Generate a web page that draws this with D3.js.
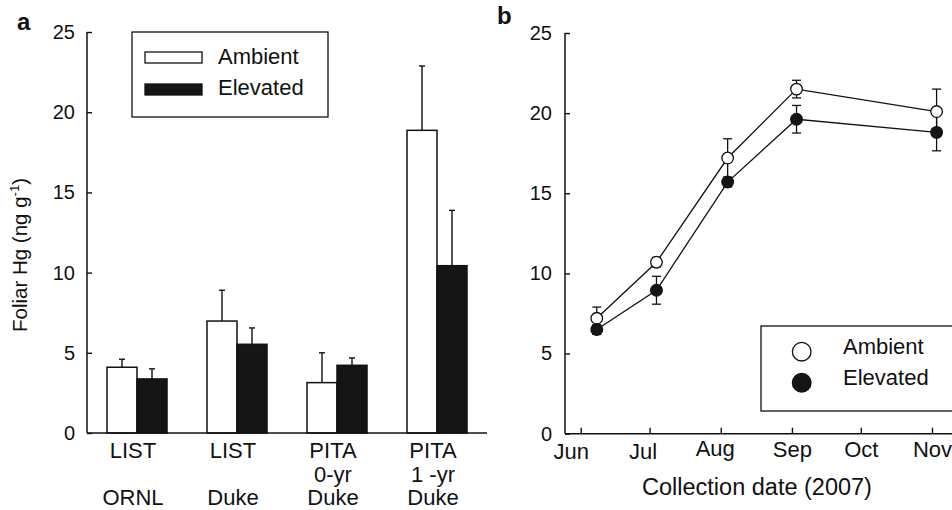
<!DOCTYPE html>
<html>
<head>
<meta charset="utf-8">
<script src="https://cdn.jsdelivr.net/npm/d3@7"></script>
<style>
  body { margin: 0; background: #fff; }
  svg { font-family: Arial, "Liberation Sans", Helvetica, sans-serif; }
</style>
</head>
<body>
<svg id="chart" width="952" height="510"></svg>
<script>
// panel a data
const sites = ['ORNL LIST', 'Duke LIST', 'PITA 0-yr', 'PITA 1-yr'];
const siteLabels = [['LIST', '', 'ORNL'], ['LIST', '', 'Duke'], ['PITA', '0-yr', 'Duke'], ['PITA', '1 -yr', 'Duke']];
const ambientBars = [4.1, 6.98, 3.14, 18.87];
const ambientBarErr = [0.5, 1.92, 1.86, 4.01];
const elevatedBars = [3.37, 5.53, 4.22, 10.43];
const elevatedBarErr = [0.63, 1.02, 0.46, 3.45];

// panel b data
const dates = ['2007-06-08', '2007-07-04', '2007-08-04', '2007-09-03', '2007-11-03'];
const ambientHg = [7.2, 10.7, 17.2, 21.5, 20.1];
const ambientHgErr = [0.7, 0.3, 1.2, 0.55, 1.4];
const elevatedHg = [6.5, 8.95, 15.7, 19.62, 18.8];
const elevatedHgErr = [0.3, 0.87, 0.3, 0.86, 1.15];
const yTicks = [0, 5, 10, 15, 20, 25];
const monthTicks = ['2007-06-01', '2007-07-01', '2007-08-01', '2007-09-01', '2007-10-01', '2007-11-01'];

const svg = d3.select('#chart');
const parse = d3.timeParse('%Y-%m-%d');
const fontSize = 22;     // labels
const tickFont = 20;     // y tick numbers

// ---------- panel a ----------
const ya = d3.scaleLinear().domain([0, 25]).range([433, 32]);
const xa = d3.scaleBand().domain(sites).range([87, 487]);
const xInner = d3.scaleBand().domain(['Ambient', 'Elevated']).range([20, 80]);

const pa = svg.append('g');

const bars = [];
sites.forEach((s, i) => {
  bars.push({ site: s, key: 'Ambient', v: ambientBars[i], e: ambientBarErr[i] });
  bars.push({ site: s, key: 'Elevated', v: elevatedBars[i], e: elevatedBarErr[i] });
});

// error bars (upper only)
bars.forEach(d => {
  const cx = xa(d.site) + xInner(d.key) + xInner.bandwidth() / 2;
  pa.append('line')
    .attr('x1', cx).attr('x2', cx)
    .attr('y1', ya(d.v)).attr('y2', ya(d.v + d.e))
    .attr('stroke', '#111').attr('stroke-width', 1.4);
  pa.append('line')
    .attr('x1', cx - 3).attr('x2', cx + 3)
    .attr('y1', ya(d.v + d.e)).attr('y2', ya(d.v + d.e))
    .attr('stroke', '#111').attr('stroke-width', 1.4);
});

pa.selectAll('.bar')
  .data(bars)
  .enter().append('rect')
  .attr('class', 'bar')
  .attr('x', d => xa(d.site) + xInner(d.key))
  .attr('width', xInner.bandwidth())
  .attr('y', d => ya(d.v))
  .attr('height', d => ya(0) - ya(d.v))
  .attr('fill', d => d.key === 'Ambient' ? '#fff' : '#151515')
  .attr('stroke', '#111')
  .attr('stroke-width', 1.5);

// y axis, ticks inward
const ayA = pa.append('g')
  .attr('transform', 'translate(87,0)')
  .call(d3.axisRight(ya).tickValues(yTicks).tickSize(5).tickPadding(0));
ayA.select('.domain').remove();
ayA.selectAll('.tick line').attr('stroke', '#111').attr('stroke-width', 1.4);
ayA.selectAll('.tick text')
  .attr('x', -12).attr('text-anchor', 'end')
  .style('font-size', tickFont + 'px').attr('fill', '#111');
pa.append('line').attr('x1', 87).attr('x2', 87).attr('y1', ya(25)).attr('y2', ya(0))
  .attr('stroke', '#111').attr('stroke-width', 1.5);
pa.append('line').attr('x1', 87).attr('x2', 487).attr('y1', ya(0)).attr('y2', ya(0))
  .attr('stroke', '#111').attr('stroke-width', 1.6);

// category labels
sites.forEach((s, i) => {
  const cx = xa(s) + xa.bandwidth() / 2 - 4;
  siteLabels[i].forEach((t, j) => {
    if (!t) return;
    pa.append('text')
      .attr('x', cx).attr('y', 458 + j * 23.5)
      .attr('text-anchor', 'middle')
      .style('font-size', fontSize + 'px').attr('fill', '#111')
      .text(t);
  });
});

// y label, starts at the bottom and runs upward
const ylab = pa.append('text')
  .attr('transform', 'translate(27,332) rotate(-90)')
  .attr('text-anchor', 'start')
  .style('font-size', '20.5px').attr('fill', '#111');
ylab.append('tspan').text('Foliar Hg (ng g');
ylab.append('tspan').attr('dy', -8).style('font-size', '13px').text('-1');
ylab.append('tspan').attr('dy', 8).text(')');

pa.append('text').attr('x', 17).attr('y', 30)
  .style('font-size', '24px').style('font-weight', 'bold').attr('fill', '#111').text('a');

// legend a
pa.append('rect').attr('x', 132).attr('y', 32).attr('width', 196).attr('height', 85)
  .attr('fill', '#fff').attr('stroke', '#111').attr('stroke-width', 1.3);
[['Ambient', '#fff'], ['Elevated', '#151515']].forEach((d, i) => {
  pa.append('rect').attr('x', 145).attr('y', 52 + i * 32).attr('width', 57).attr('height', 11)
    .attr('fill', d[1]).attr('stroke', '#111').attr('stroke-width', 1.3);
  pa.append('text').attr('x', 218).attr('y', 64 + i * 31)
    .style('font-size', fontSize + 'px').attr('fill', '#111').text(d[0]);
});

// ---------- panel b ----------
const yb = d3.scaleLinear().domain([0, 25]).range([433.7, 33]);
const xb = d3.scaleTime().domain([parse('2007-06-01'), parse('2007-11-01')]).range([580.7, 932]);

const pb = svg.append('g');

const ayB = pb.append('g')
  .attr('transform', 'translate(565,0)')
  .call(d3.axisRight(yb).tickValues(yTicks).tickSize(5));
ayB.select('.domain').remove();
ayB.selectAll('.tick line').attr('stroke', '#111').attr('stroke-width', 1.4);
ayB.selectAll('.tick text')
  .attr('x', -13).attr('text-anchor', 'end')
  .style('font-size', tickFont + 'px').attr('fill', '#111');
pb.append('line').attr('x1', 565).attr('x2', 565).attr('y1', yb(25)).attr('y2', yb(0))
  .attr('stroke', '#111').attr('stroke-width', 1.5);

const axB = pb.append('g')
  .attr('transform', 'translate(0,' + yb(0) + ')')
  .call(d3.axisBottom(xb).tickValues(monthTicks.map(parse))
    .tickFormat(d3.timeFormat('%b')).tickSizeInner(-6).tickSizeOuter(0));
axB.select('.domain').remove();
axB.selectAll('.tick line').attr('stroke', '#111').attr('stroke-width', 1.4);
const labelNudge = { Jun: [-10, 2], Jul: [-7, 2], Aug: [-6, -1] };
axB.selectAll('.tick text')
  .attr('y', 23).attr('dy', 0)
  .attr('transform', function () {
    const n = labelNudge[d3.select(this).text()] || [0, 0];
    return 'translate(' + n[0] + ',' + n[1] + ')';
  })
  .style('font-size', fontSize + 'px').attr('fill', '#111');
pb.append('line').attr('x1', 565).attr('x2', 952).attr('y1', yb(0)).attr('y2', yb(0))
  .attr('stroke', '#111').attr('stroke-width', 1.6);

pb.append('text').attr('x', 757).attr('y', 495).attr('text-anchor', 'middle')
  .style('font-size', '23.5px').attr('fill', '#111').text('Collection date (2007)');

pb.append('text').attr('x', 497).attr('y', 24)
  .style('font-size', '24px').style('font-weight', 'bold').attr('fill', '#111').text('b');

const series = [
  { name: 'Ambient', vals: ambientHg, errs: ambientHgErr, fill: '#fff' },
  { name: 'Elevated', vals: elevatedHg, errs: elevatedHgErr, fill: '#151515' }
];

series.forEach(s => {
  s.vals.forEach((v, i) => {
    const cx = xb(parse(dates[i]));
    const e = s.errs[i];
    pb.append('line').attr('x1', cx).attr('x2', cx)
      .attr('y1', yb(v - e)).attr('y2', yb(v + e))
      .attr('stroke', '#111').attr('stroke-width', 1.3);
    [v - e, v + e].forEach(t => {
      pb.append('line').attr('x1', cx - 4.5).attr('x2', cx + 4.5)
        .attr('y1', yb(t)).attr('y2', yb(t))
        .attr('stroke', '#111').attr('stroke-width', 1.3);
    });
  });
});

const line = d3.line()
  .x((d, i) => xb(parse(dates[i])))
  .y(d => yb(d));

series.forEach(s => {
  pb.append('path').datum(s.vals)
    .attr('d', line)
    .attr('fill', 'none').attr('stroke', '#111').attr('stroke-width', 1.3);
});

series.forEach(s => {
  pb.selectAll(null).data(s.vals)
    .enter().append('circle')
    .attr('cx', (d, i) => xb(parse(dates[i])))
    .attr('cy', d => yb(d))
    .attr('r', 5.8)
    .attr('fill', s.fill)
    .attr('stroke', '#111').attr('stroke-width', 1.3);
});

// legend b
pb.append('rect').attr('x', 761).attr('y', 326).attr('width', 200).attr('height', 85)
  .attr('fill', '#fff').attr('stroke', '#111').attr('stroke-width', 1.3);
series.forEach((s, i) => {
  pb.append('circle').attr('cx', 801.7).attr('cy', 351.7 + i * 31).attr('r', 9.3)
    .attr('fill', s.fill).attr('stroke', '#111').attr('stroke-width', 1.3);
  pb.append('text').attr('x', 843).attr('y', 354 + i * 31)
    .style('font-size', fontSize + 'px').attr('fill', '#111').text(s.name);
});
</script>
</body>
</html>
